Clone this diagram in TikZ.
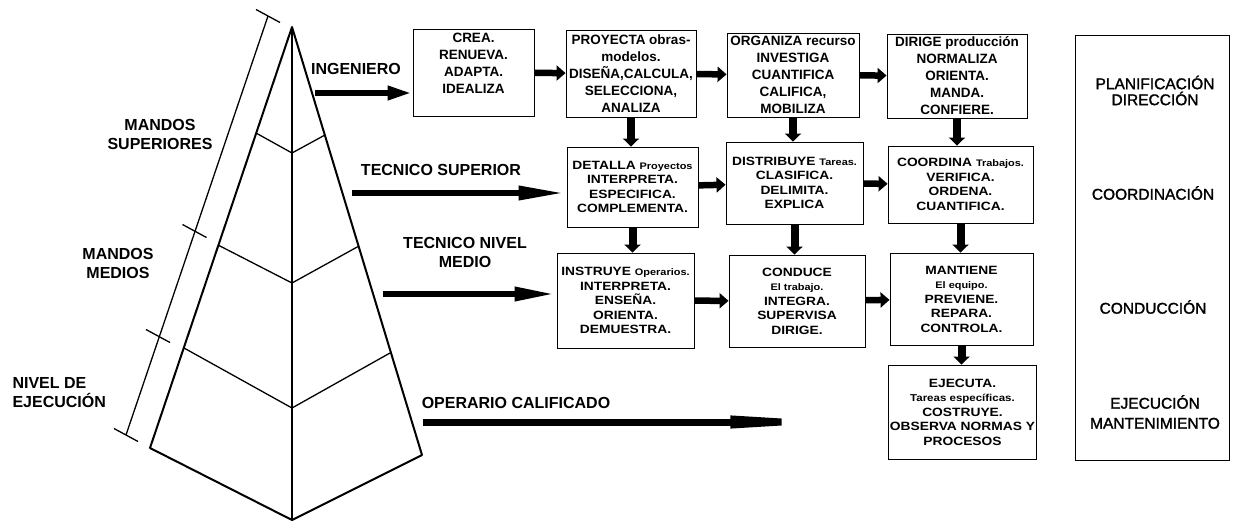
\documentclass[tikz,border=0pt]{standalone}
\usepackage{fontspec}
\setmainfont{Liberation Sans}
\newfontfamily\wide{Liberation Sans}[FakeStretch=1.15]
\newfontfamily\semi{Liberation Sans}[FakeBold=1.5]
\usetikzlibrary{arrows.meta, calc}

\newcommand\lc[1]{{\fontsize{9.5}{14.5}\selectfont #1}}

\begin{document}
\begin{tikzpicture}[x=1pt, y=-1pt,
      top/.style = {draw, line width=0.9pt, inner sep=1pt, align=center,
                    font=\bfseries\fontsize{13.5}{17}\selectfont},
      box/.style = {draw, line width=0.9pt, inner sep=1pt, align=center,
                    font=\wide\bfseries\fontsize{12}{14.5}\selectfont},
      lbl/.style = {align=center, font=\bfseries\fontsize{16}{19}\selectfont},
      area/.style = {align=center, font=\semi\fontsize{15.5}{18}\selectfont},
      pyr/.style = {line width=6.5pt, -{Triangle[length=#1, width=13pt]}},
      flow/.style = {line width=6.5pt, -{Triangle[length=9pt, width=15pt]}},
      drop/.style = {line width=8pt, -{Triangle[length=8pt, width=16pt]}},
      edge/.style = {line width=2pt, line join=round},
      rib/.style = {line width=1.3pt} ]

\useasboundingbox (0,0) rectangle (1233,527);

% pyramid
\coordinate (apex) at (292,27);
\coordinate (lb)   at (150,448);
\coordinate (bot)  at (292,520);
\coordinate (rb)   at (422,455);
\draw[edge] (apex) -- (lb) -- (bot) -- (rb) -- cycle;
\draw[edge] (apex) -- (bot);
\draw[rib] (256,133) -- (292,153) -- (325,135);
\draw[rib] (218,245) -- (292,283) -- (359,246);
\draw[rib] (184,348) -- (292,408) -- (390,353);

% scale beside the pyramid
\coordinate (s0) at (268,16);
\coordinate (s1) at (194.5,231);
\coordinate (s2) at (158,336);
\coordinate (s3) at (126,435);
\draw[rib] (s0) -- (s3);
\foreach \s in {s0,s1,s2,s3}
  \draw[rib] ([shift={(-12,-6.5)}]\s) -- ([shift={(12,6.5)}]\s);

\node (ms) [lbl] at (160,134.5) {MANDOS\\SUPERIORES};
\node (mm) [lbl] at (118,263.5) {MANDOS\\MEDIOS};
\node (ne) [lbl, align=left, anchor=west] at (9,392.5) {NIVEL DE\\EJECUCIÓN};

% levels
\node (ing)  [lbl] at (356,69)    {INGENIERO};
\node (tsup) [lbl] at (441,170)   {TECNICO SUPERIOR};
\node (tnm)  [lbl] at (465,252.5) {TECNICO NIVEL\\MEDIO};
\node (opc)  [lbl] at (516,403)   {OPERARIO CALIFICADO};

% boxes
\node (crea) [top, minimum width=121pt, minimum height=87pt, text depth=18pt]
      at (473.5,72.5) {CREA.\\RENUEVA.\\ADAPTA.\\IDEALIZA};
\node (proyecta) [top, minimum width=130pt, minimum height=87pt]
      at (631,73.5) {PROYECTA obras-\\modelos.\\DISEÑA,CALCULA,\\SELECCIONA,\\ANALIZA};
\node (organiza) [top, minimum width=132pt, minimum height=84pt]
      at (793,75) {ORGANIZA recurso\\INVESTIGA\\CUANTIFICA\\CALIFICA,\\MOBILIZA};
\node (dirige) [top, minimum width=140pt, minimum height=84pt]
      at (957,76) {DIRIGE producción\\NORMALIZA\\ORIENTA.\\MANDA.\\CONFIERE.};

\node (detalla) [box, minimum width=131pt, minimum height=80pt]
      at (632.5,187) {DETALLA \lc{Proyectos}\\INTERPRETA.\\ESPECIFICA.\\COMPLEMENTA.};
\node (distribuye) [box, minimum width=137pt, minimum height=82pt]
      at (794.5,183) {DISTRIBUYE \lc{Tareas.}\\CLASIFICA.\\DELIMITA.\\EXPLICA};
\node (coordina) [box, minimum width=145pt, minimum height=77pt]
      at (960.5,184.5) {COORDINA \lc{Trabajos.}\\VERIFICA.\\ORDENA.\\CUANTIFICA.};

\node (instruye) [box, minimum width=137pt, minimum height=95pt]
      at (625.5,300.5) {INSTRUYE \lc{Operarios.}\\INTERPRETA.\\ENSEÑA.\\ORIENTA.\\DEMUESTRA.};
\node (conduce) [box, minimum width=136pt, minimum height=92pt]
      at (797,301) {CONDUCE\\\lc{El trabajo.}\\INTEGRA.\\SUPERVISA\\DIRIGE.};
\node (mantiene) [box, minimum width=143pt, minimum height=92pt]
      at (961.5,299) {MANTIENE\\\lc{El equipo.}\\PREVIENE.\\REPARA.\\CONTROLA.};

\node (ejecuta) [box, minimum width=145pt, minimum height=94pt]
      at (962.5,412) {EJECUTA.\\{\fontsize{10}{14.5}\selectfont Tareas específicas.}\\COSTRUYE.\\OBSERVA NORMAS Y\\PROCESOS};

% areas
\draw[line width=0.9pt] (1075,35) rectangle (1229,460);
\node (plan) [area, font=\semi\fontsize{15.5}{16}\selectfont] at (1155,90.5) {PLANIFICACIÓN\\DIRECCIÓN};
\node (coor) [area] at (1153,193) {COORDINACIÓN};
\node (cond) [area] at (1153,307) {CONDUCCIÓN};
\node (ejec) [area, font=\semi\fontsize{15.5}{20}\selectfont] at (1155,412) {EJECUCIÓN\\MANTENIMIENTO};

% arrows from the pyramid
\coordinate (a1) at (315,93);
\coordinate (a2) at (352,193);
\coordinate (a3) at (383,294);
\coordinate (a4) at (423,422);
\draw[pyr=25pt] (a1) -- (a1 -| crea.west);
\draw[pyr=48pt] (a2) -- (a2 -| detalla.west);
\draw[pyr=42pt] (a3) -- (a3 -| instruye.west);
\draw[line width=7pt, -{Triangle[length=140pt, width=11pt]}, shorten >=18pt]
      (a4) -- (a4 -| ejecuta.west);

% arrows between boxes
\draw[flow] (crea) -- (proyecta);
\draw[flow] (proyecta) -- (organiza);
\draw[flow] (organiza) -- (dirige);
\draw[flow] (detalla) -- (distribuye);
\draw[flow] (distribuye) -- (coordina);
\draw[flow] (instruye) -- (conduce);
\draw[flow] (conduce) -- (mantiene);

\draw[drop] (proyecta.south) -- (proyecta.south |- detalla.north);
\draw[drop] (organiza.south) -- (organiza.south |- distribuye.north);
\draw[drop] (dirige.south) -- (dirige.south |- coordina.north);
\draw[drop] (detalla.south) -- (detalla.south |- instruye.north);
\draw[drop] (distribuye.south) -- (distribuye.south |- conduce.north);
\draw[drop] (coordina.south) -- (coordina.south |- mantiene.north);
\draw[drop] (mantiene.south) -- (mantiene.south |- ejecuta.north);
\end{tikzpicture}
\end{document}
